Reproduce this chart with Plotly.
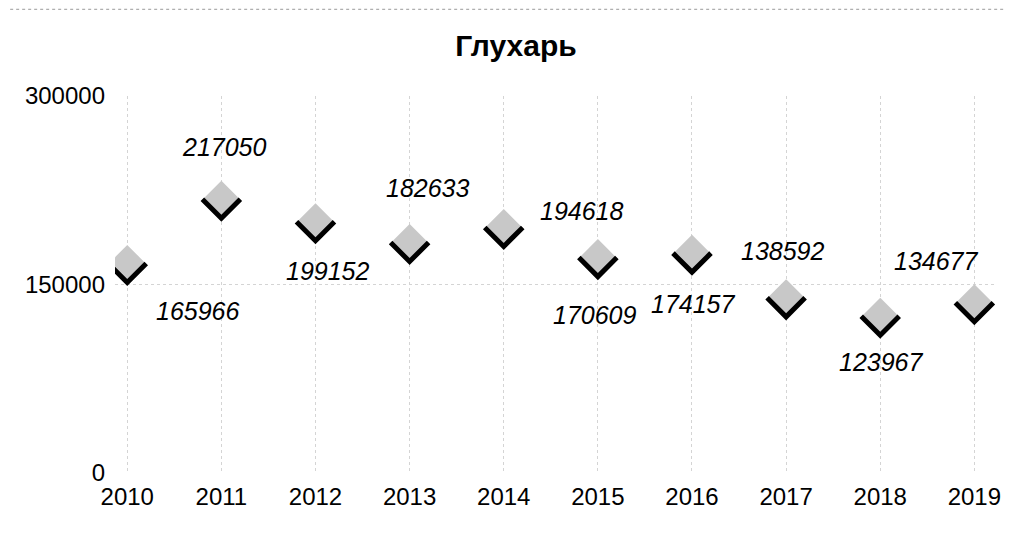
import plotly.graph_objects as go

years = [2010, 2011, 2012, 2013, 2014, 2015, 2016, 2017, 2018, 2019]
values = [165966, 217050, 199152, 182633, 194618, 170609, 174157, 138592, 123967, 134677]
title_text = "Глухарь"
y_ticks = [0, 150000, 300000]

# label offsets (pixels) relative to each point: (dx, dy-up)
label_dx = [71, 3, 13, 18, 78, -3, 2, -3, 1, -38]
label_dy = [-47, 53, -48, 55, 17, -56, -50, 48, -45, 43]

FONT = "Liberation Sans, Arial, sans-serif"
W, H = 1005, 518

fig = go.Figure()
fig.add_trace(go.Scatter(
    x=years, y=values, mode="markers",
    marker=dict(symbol="diamond", size=30, color="#c8c8c8", line=dict(width=0)),
    hoverinfo="x+y", showlegend=False,
))

shapes = []
for x, y in zip(years, values):
    shapes.append(dict(
        type="path", xref="x", yref="y",
        xsizemode="pixel", ysizemode="pixel", xanchor=x, yanchor=y,
        path="M-19,1 L0,-18 L19,1",
        line=dict(color="black", width=5), layer="above",
    ))
# faint frame remnant at top
shapes.append(dict(type="line", xref="paper", yref="paper", x0=-0.119, x1=1.011, y0=1.23, y1=1.23,
                   line=dict(color="#9a9a9a", width=1, dash="dot")))

annotations = []
for x, y, dx, dy in zip(years, values, label_dx, label_dy):
    annotations.append(dict(
        x=x, y=y, xref="x", yref="y", text=f"<i>{y}</i>", showarrow=False,
        xshift=dx, yshift=dy, font=dict(family=FONT, size=25, color="black"),
    ))

fig.update_layout(
    width=W, height=H,
    margin=dict(l=107, r=13, t=88, b=53),
    paper_bgcolor="white", plot_bgcolor="white",
    title=dict(text=f"<b>{title_text}</b>", x=508/W, xref="container", xanchor="center",
               y=1-37/H, yref="container", yanchor="middle",
               font=dict(family=FONT, size=30, color="black")),
    shapes=shapes, annotations=annotations,
    xaxis=dict(range=[2009.87, 2019.23], tickmode="array", tickvals=years,
               ticktext=[str(v) for v in years], showline=False, zeroline=False,
               showgrid=True, gridcolor="#d4d4d4", griddash="dot", gridwidth=1,
               ticks="", ticklabelstandoff=7,
               tickfont=dict(family=FONT, size=24, color="black")),
    yaxis=dict(range=[0, 300000], tickmode="array", tickvals=y_ticks,
               ticktext=[str(v) for v in y_ticks], showline=False, zeroline=False,
               showgrid=True, gridcolor="#d4d4d4", griddash="dot", gridwidth=1,
               ticks="", ticklabelstandoff=9,
               tickfont=dict(family=FONT, size=24, color="black")),
)

fig.write_html("out.html")
